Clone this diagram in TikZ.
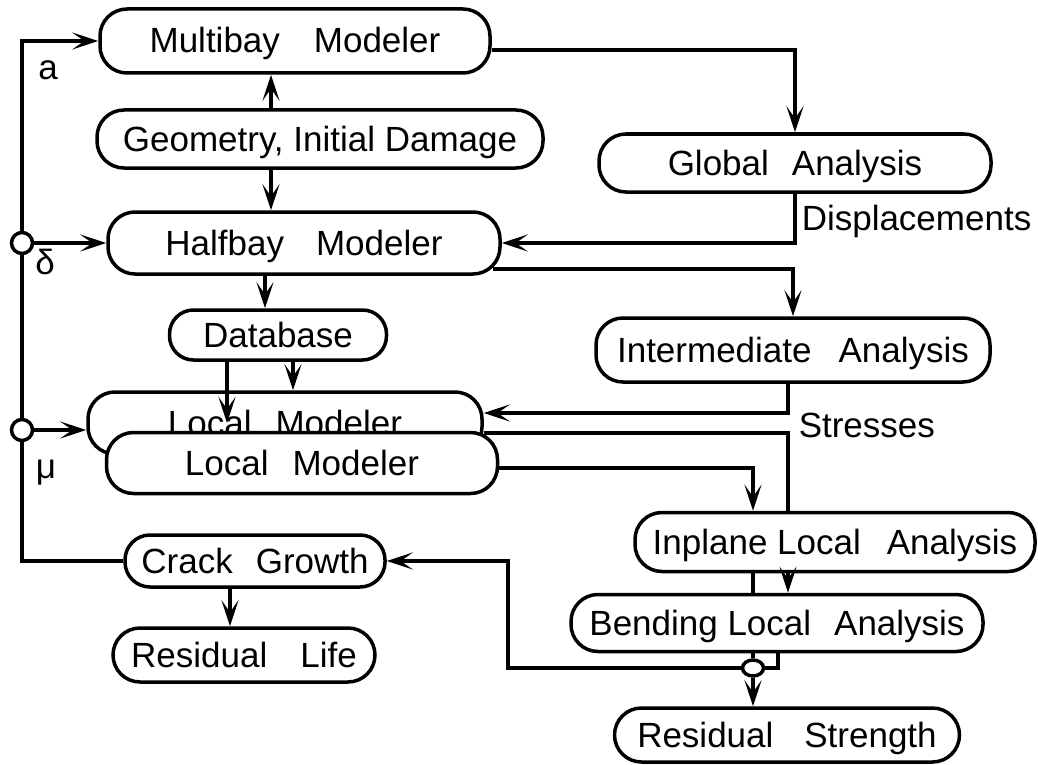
\documentclass[tikz,border=0pt]{standalone}
\usepackage{fontspec}
\setmainfont{Liberation Sans}
\usetikzlibrary{arrows.meta,calc,shapes.geometric}
\begin{document}
\begin{tikzpicture}[x=1pt,y=-1pt,line width=3.5pt,
  box/.style={draw, rounded corners=27pt, fill=white, inner sep=0pt,
    font=\fontsize{35}{41}\selectfont, text height=28pt, text depth=4pt},
  lbl/.style={font=\fontsize{35}{41}\selectfont, inner sep=0pt},
  jn/.style={circle, draw, fill=white, minimum size=21pt, inner sep=0pt},
  >={Stealth[length=26pt,width=17pt,inset=12pt]}]
\useasboundingbox (0,0) rectangle (1038,765);
% boxes
\node[box, minimum width=390pt, minimum height=64pt] (multi) at (295,41) {Multibay\hspace{34pt}Modeler};
\node[box, minimum width=446pt, minimum height=58pt] (geo) at (320,139) {Geometry, Initial Damage};
\node[box, minimum width=392pt, minimum height=58pt] (ga) at (795,163) {Global\hspace{23pt}Analysis};
\node[box, minimum width=392pt, minimum height=62pt] (half) at (304,243) {Halfbay\hspace{32pt}Modeler};
\node[box, rounded corners=24pt, minimum width=217pt, minimum height=50pt] (db) at (278,335) {Database};
\node[box, minimum width=394pt, minimum height=64pt] (inter) at (793,350) {Intermediate\hspace{27pt}Analysis};
\node[box, minimum width=394pt, minimum height=62pt] (back) at (285,423) {Local\hspace{24pt}Modeler};
\node[box, minimum width=391pt, minimum height=61pt] (front) at (302,463) {Local\hspace{24pt}Modeler};
\node[box, minimum width=400pt, minimum height=59pt] (inpl) at (835,542) {Inplane Local\hspace{26pt}Analysis};
\node[box, rounded corners=25pt, minimum width=260pt, minimum height=52pt] (crack) at (255,561) {Crack\hspace{23pt}Growth};
\node[box, minimum width=412pt, minimum height=57pt] (bend) at (777,623) {Bending Local\hspace{23pt}Analysis};
\node[box, minimum width=262pt, minimum height=54pt] (rl) at (244,655) {Residual\hspace{33pt}Life};
\node[box, minimum width=345pt, minimum height=54pt] (rs) at (787,735) {Residual\hspace{31pt}Strength};
% junctions
\coordinate (lx) at (22,0);
\node[jn] (cd) at (lx |- half.west) {};
\node[jn] (cm) at (22,430) {};
\node[ellipse, draw, fill=white, minimum width=21pt, minimum height=16pt, inner sep=0pt] (ell) at (753,668) {};
% labels
\node[lbl] (la) at (48,70) {a};
\node[lbl] (ldelta) at (45,262) {δ};
\node[lbl] (lmu) at (46,473) {μ};
\node[lbl, anchor=base west] (ld) at (800,230) {Displacements};
\node[lbl, anchor=base west] (ls) at (797,437) {Stresses};
% helper x positions
\coordinate (xg) at (271,0);
\coordinate (xh) at (265,0);
\coordinate (xdb1) at (227,0);
\coordinate (xdb2) at (293,0);
\coordinate (xr) at (788,0);
\coordinate (xl) at (753,0);
\coordinate (xrr) at (778,0);
\coordinate (xc) at (508,0);
\coordinate (xcr) at (230,0);
% left feedback
\draw (crack.west) -| (cm.south);
\draw (cm.north) -- (cd.south);
\draw[->] (cd.north) |- (multi.west);
\draw[->] (cd.east) -- (half.west);
\draw[->] (cm.east) -- (cm.east -| back.west);
% top
\draw[->] (geo.north -| xg) -- (multi.south -| xg);
\draw[->] (geo.south -| xg) -- (half.north -| xg);
\draw[->] ($(multi.east)+(0,9)$) -| (ga.north);
\draw[->] (ga.south) |- (half.east);
\draw[->] ($(half.east)+(-9,26)$) -| (inter.north);
\draw[->] (half.south -| xh) -- (db.north -| xh);
\draw[->] (db.south -| xdb1) -- (back.center -| xdb1);
\draw[->] (db.south -| xdb2) -- (back.north -| xdb2);
% middle
\draw[->] (inter.south -| xr) |- ($(back.east)+(0,-10)$);
\draw ($(back.east)+(0,10)$) -| (inpl.north -| xr);
\draw[->] ($(front.east)+(0,5)$) -| (inpl.north -| xl);
\draw (inpl.south -| xl) -- (bend.north -| xl);
\draw[->] (inpl.south -| xr) -- (bend.north -| xr);
% bottom
\draw (bend.south -| ell) -- (ell.north);
\draw (bend.south -| xrr) |- (ell.east);
\draw[->] (ell.west) -| (xc |- crack.east) -- (crack.east);
\draw[->] (ell.south) -- (ell.south |- rs.north);
\draw[->] (crack.south -| xcr) -- (rl.north -| xcr);
\end{tikzpicture}
\end{document}
